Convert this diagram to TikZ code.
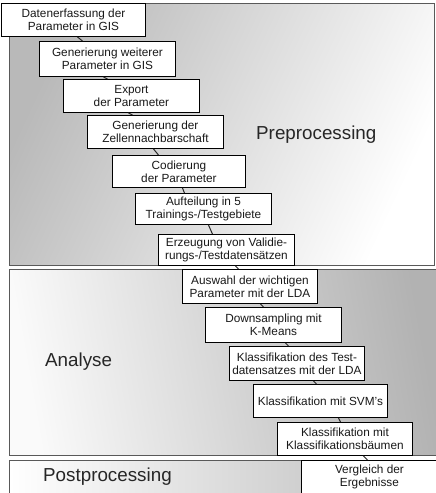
\documentclass[tikz,border=0pt]{standalone}
\usepackage{fontspec}
\setmainfont{Liberation Sans}
\begin{document}
\begin{tikzpicture}[x=1pt,y=-1pt,
  stepbox/.style={draw=black, line width=0.9pt, fill=white, inner sep=0pt, align=center,
    anchor=north west, font=\fontsize{11.8}{13}\selectfont, text=black!90},
  conn/.style={draw=black!85, line width=1pt},
  panel/.style={draw=black!65, line width=1pt},
  phase/.style={font=\fontsize{18.8}{22}\selectfont, text=black!85, anchor=base west, inner sep=0pt}]
\clip (0,0) rectangle (436,493);
\useasboundingbox (0,0) rectangle (436,493);
\fill[white] (0,0) rectangle (436,493);
% panels
\shade[left color=gray!55, middle color=white!88!gray, right color=white, shading angle=65] (9,3) rectangle (434,265);
\draw[panel] (9,3) rectangle (434,265);
\shade[left color=white!96!gray, middle color=white!85!gray, right color=gray!60, shading angle=100] (9,269) rectangle (440,455);
\draw[panel] (9,269) rectangle (440,455);
\shade[left color=white, right color=gray!55] (9,460) rectangle (440,500);
\draw[panel] (9,460) rectangle (440,500);
% phase labels
\node[phase] (pre) at (256,139) {Preprocessing};
\node[phase] (ana) at (45,366) {Analyse};
\node[phase] (post) at (43,481) {Postprocessing};
% boxes
\node[stepbox, minimum width=144pt, minimum height=33pt] (b1) at (1,3) {Datenerfassung der\\Parameter in GIS};
\node[stepbox, minimum width=136pt, minimum height=35pt] (b2) at (39,41) {Generierung weiterer\\Parameter in GIS};
\node[stepbox, minimum width=136pt, minimum height=33pt] (b3) at (63,79) {Export\\der Parameter};
\node[stepbox, minimum width=136pt, minimum height=33pt] (b4) at (87,115) {Generierung der\\Zellennachbarschaft};
\node[stepbox, minimum width=133pt, minimum height=32pt] (b5) at (112,155) {Codierung\\der Parameter};
\node[stepbox, minimum width=136pt, minimum height=31pt] (b6) at (135,193) {Aufteilung in 5\\Trainings-/Testgebiete};
\node[stepbox, minimum width=136pt, minimum height=31pt] (b7) at (158,234) {Erzeugung von Validie-\\rungs-/Testdatens\"atzen};
\node[stepbox, minimum width=135pt, minimum height=34pt] (b8) at (182,269) {Auswahl der wichtigen\\Parameter mit der LDA};
\node[stepbox, minimum width=136pt, minimum height=35pt] (b9) at (205,307) {Downsampling mit\\K-Means};
\node[stepbox, minimum width=135pt, minimum height=34pt] (b10) at (229,346) {Klassifikation des Test-\\datensatzes mit der LDA};
\node[stepbox, minimum width=134pt, minimum height=33pt] (b11) at (253,384) {Klassifikation mit SVM's};
\node[stepbox, minimum width=135pt, minimum height=33pt] (b12) at (277,422) {Klassifikation mit\\Klassifikationsb\"aumen};
\node[stepbox, minimum width=136pt, minimum height=33pt] (b13) at (301,460) {Vergleich der\\Ergebnisse};
% connectors
\draw[conn] ([xshift=4pt]b1.south) -- ([xshift=-25pt]b2.north);
\draw[conn] ([xshift=-4pt]b2.south) -- ([xshift=-24pt]b3.north);
\draw[conn] ([xshift=-3pt]b3.south) -- ([xshift=-23pt]b4.north);
\draw[conn] ([xshift=-2pt]b4.south) -- ([xshift=-20.5pt]b5.north);
\draw[conn] ([xshift=3.5pt]b5.south) -- ([xshift=-19pt]b6.north);
\draw[conn] ([xshift=5pt]b6.south) -- ([xshift=-14pt]b7.north);
\draw[conn] ([xshift=9pt]b7.south) -- ([xshift=-11.5pt]b8.north);
\draw[conn] ([xshift=10.5pt]b8.south) -- ([xshift=-10pt]b9.north);
\draw[conn] ([xshift=12pt]b9.south) -- ([xshift=-8.5pt]b10.north);
\draw[conn] ([xshift=16.5pt]b10.south) -- ([xshift=-4pt]b11.north);
\draw[conn] ([xshift=18pt]b11.south) -- ([xshift=-4.5pt]b12.north);
\draw[conn] ([xshift=18.5pt]b12.south) -- ([xshift=-2pt]b13.north);
\end{tikzpicture}
\end{document}
